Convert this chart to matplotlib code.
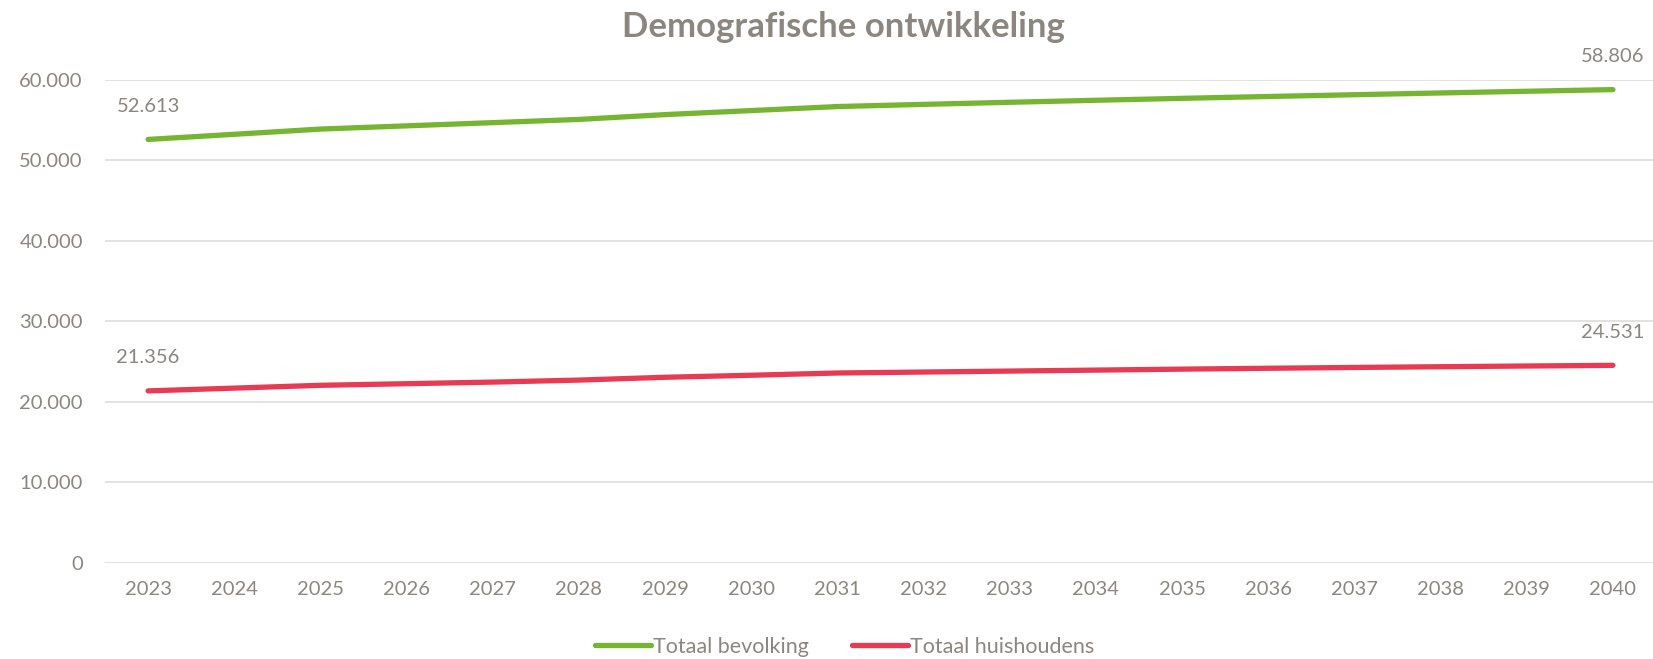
import numpy as np
import matplotlib.pyplot as plt
from matplotlib.ticker import FuncFormatter

plt.rcParams['font.family'] = ['Lato', 'DejaVu Sans']

years = [2023, 2024, 2025, 2026, 2027, 2028, 2029, 2030, 2031,
         2032, 2033, 2034, 2035, 2036, 2037, 2038, 2039, 2040]
bevolking = [52613, 53250, 53900, 54300, 54700, 55100, 55700, 56200, 56700,
             56970, 57230, 57480, 57720, 57950, 58170, 58390, 58600, 58806]
huishoudens = [21356, 21700, 22050, 22250, 22450, 22700, 23050, 23300, 23580,
               23700, 23820, 23940, 24060, 24170, 24270, 24360, 24450, 24531]
series_names = ['Totaal bevolking', 'Totaal huishoudens']

GREEN = '#76B532'
RED = '#E83A52'
TXT = '#8C8680'


def nl(v, pos=None):
    return f'{int(round(v)):,}'.replace(',', '.')


fig = plt.figure(figsize=(16.53, 6.59), dpi=100)
ax = fig.add_axes([105 / 1653, 1 - 562.7 / 659, 1551 / 1653, (562.7 - 80) / 659])

x = np.arange(len(years))
ax.plot(x, bevolking, color=GREEN, lw=3.8, solid_capstyle='round', label=series_names[0])
ax.plot(x, huishoudens, color=RED, lw=3.8, solid_capstyle='round', label=series_names[1])

# data labels only on first and last point
for s in (bevolking, huishoudens):
    for i in (0, len(s) - 1):
        ax.annotate(nl(s[i]), (x[i], s[i]), xytext=(0, 24), textcoords='offset points',
                    ha='center', va='center', fontsize=14.5, color=TXT)

ax.set_xlim(-0.5, len(years) - 0.5)
ax.set_ylim(0, 60000)
ax.set_yticks(np.arange(0, 60001, 10000))
ax.yaxis.set_major_formatter(FuncFormatter(nl))
ax.set_xticks(x)
ax.set_xticklabels([str(y) for y in years])
ax.grid(axis='y', color='#E2E2E2', lw=1.4)
ax.set_axisbelow(True)
for sp in ax.spines.values():
    sp.set_visible(False)
ax.tick_params(axis='both', length=0, labelsize=14.5, labelcolor=TXT)
ax.tick_params(axis='y', pad=16)
ax.tick_params(axis='x', pad=13)

fig.text(843 / 1653, 1 - 27 / 659, 'Demografische ontwikkeling', ha='center', va='center',
         fontsize=25, fontweight='bold', color=TXT)

leg = fig.legend(loc='center', bbox_to_anchor=(845 / 1653, 1 - 647 / 659), ncol=2, frameon=False,
                 fontsize=15.5, handlelength=2.6, handletextpad=0.1, columnspacing=2.0,
                 labelcolor=TXT)

fig.savefig('out.png', dpi=100)
